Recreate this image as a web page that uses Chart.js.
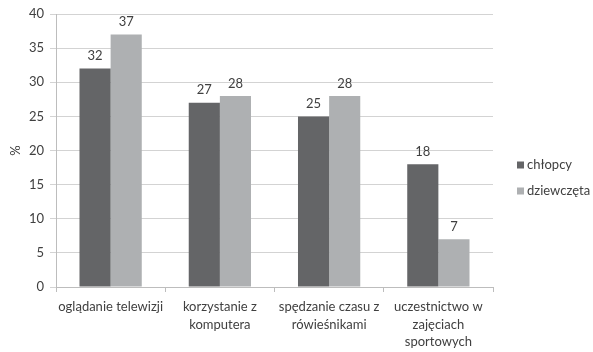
<!DOCTYPE html>
<html>
<head>
<meta charset="utf-8">
<script src="https://cdn.jsdelivr.net/npm/chart.js@4"></script>
<style>
  html, body { margin: 0; padding: 0; background: #fff; }
  #wrap { width: 593px; height: 352px; }
</style>
</head>
<body>
<div id="wrap"><canvas id="chart" width="593" height="352"></canvas></div>
<script>
const categories = [
  'oglądanie telewizji',
  ['korzystanie z', 'komputera'],
  ['spędzanie czasu z', 'rówieśnikami'],
  ['uczestnictwo w', 'zajęciach', 'sportowych'],
];
const boys = [32, 27, 25, 18];
const girls = [37, 28, 28, 7];
const seriesNames = ['chłopcy', 'dziewczęta'];
const seriesColors = ['#646567', '#aeb0b2'];

const FONT = 'Lato, "Open Sans", sans-serif';
const TEXT = '#404040';

// value labels above each bar
const valueLabels = {
  id: 'valueLabels',
  afterDatasetsDraw(chart) {
    const ctx = chart.ctx;
    ctx.save();
    ctx.font = '13px ' + FONT;
    ctx.fillStyle = TEXT;
    ctx.textAlign = 'center';
    ctx.textBaseline = 'bottom';
    chart.data.datasets.forEach((ds, i) => {
      chart.getDatasetMeta(i).data.forEach((bar, j) => {
        ctx.fillText(ds.data[j], bar.x, bar.y - 6);
      });
    });
    ctx.restore();
  }
};

// legend on the right, small squares like the office style
const sideLegend = {
  id: 'sideLegend',
  afterDraw(chart) {
    const ctx = chart.ctx;
    ctx.save();
    ctx.font = '13px ' + FONT;
    ctx.textBaseline = 'middle';
    chart.data.datasets.forEach((ds, i) => {
      const y = 165 + i * 26;
      ctx.fillStyle = ds.backgroundColor;
      ctx.fillRect(517, y - 3.5, 7, 7);
      ctx.fillStyle = TEXT;
      ctx.fillText(ds.label, 527, y);
    });
    ctx.restore();
  }
};

new Chart(document.getElementById('chart'), {
  type: 'bar',
  data: {
    labels: categories,
    datasets: [
      { label: seriesNames[0], data: boys, backgroundColor: seriesColors[0] },
      { label: seriesNames[1], data: girls, backgroundColor: seriesColors[1] },
    ]
  },
  options: {
    responsive: false,
    animation: false,
    layout: { padding: { top: 14, right: 100, left: 0, bottom: 0 } },
    datasets: {
      bar: { categoryPercentage: 0.57, barPercentage: 1.0 }
    },
    plugins: {
      legend: { display: false },
      tooltip: { enabled: false },
    },
    scales: {
      x: {
        grid: {
          display: true,
          drawOnChartArea: false,
          offset: true,
          color: '#bdbdbd',
          tickLength: 5,
        },
        border: { color: '#bdbdbd' },
        ticks: {
          color: TEXT,
          font: { family: FONT, size: 13, lineHeight: 1.35 },
          maxRotation: 0,
          autoSkip: false,
          padding: 6,
        },
        afterFit(scale) { scale.height = 65; },
      },
      y: {
        min: 0,
        max: 40,
        ticks: {
          stepSize: 5,
          color: TEXT,
          font: { family: FONT, size: 13 },
          padding: 6,
        },
        grid: { color: '#d3d3d3', tickLength: 6 },
        border: { color: '#bdbdbd' },
        title: {
          display: true,
          text: '%',
          color: TEXT,
          font: { family: FONT, size: 13 },
          padding: { top: 8, bottom: 0 },
        },
        afterFit(scale) { scale.width = 56; },
      }
    }
  },
  plugins: [valueLabels, sideLegend]
});
</script>
</body>
</html>
